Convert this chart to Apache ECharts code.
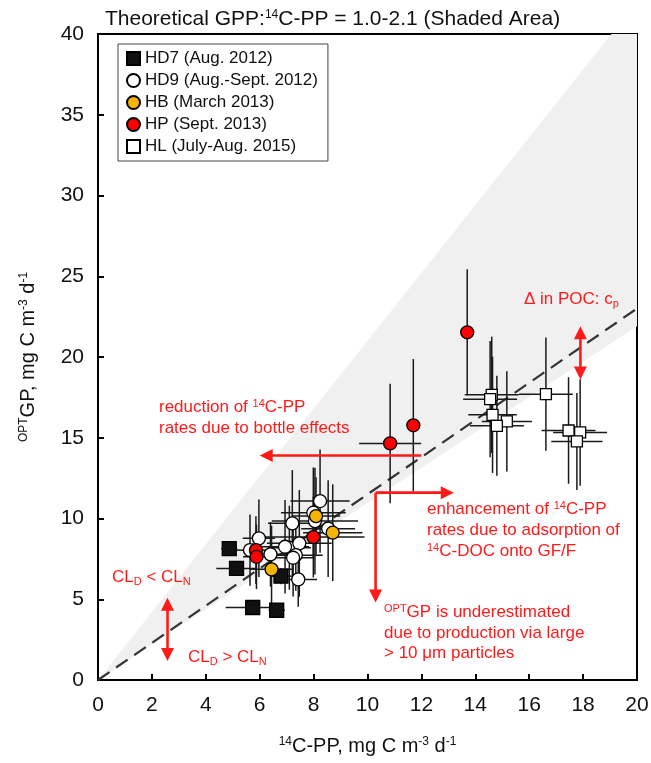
<!DOCTYPE html>
<html>
<head>
<meta charset="utf-8">
<script src="https://cdn.jsdelivr.net/npm/echarts@6/dist/echarts.min.js"></script>
<style>
  html, body { margin: 0; padding: 0; background: #fff; }
  #main { width: 651px; height: 763px; }
</style>
</head>
<body>
<div id="main"></div>
<script>
const FONT = 'Liberation Sans, Arial, sans-serif'

// HD7 (Aug. 2012)
const hd7X = [4.87, 5.14, 6.79, 5.74, 6.63]
const hd7Y = [8.13, 6.91, 6.43, 4.49, 4.32]
const hd7Xerr = [0.3, 0.75, 0.4, 1.0, 0.3]
const hd7Yerr = [0, 0, 0.5, 0, 0]
// HD9 (Aug.-Sept. 2012)
const hd9X = [8.24, 7.99, 8.05, 8.54, 7.21, 5.97, 5.64, 6.40, 7.10, 6.94, 7.47, 7.34, 7.24, 7.43]
const hd9Y = [11.08, 10.36, 9.84, 9.37, 9.70, 8.77, 8.04, 7.78, 8.19, 8.25, 8.46, 7.73, 7.57, 6.23]
const hd9Xerr = [1.1, 1.2, 1.6, 1.0, 0.9, 0.6, 0.5, 0.7, 0.8, 0.9, 1.2, 1.0, 0.8, 0.7]
const hd9Yerr = [3.2, 2.8, 3.3, 3.0, 3.3, 2.4, 2.2, 2.0, 2.6, 2.9, 3.3, 2.2, 2.4, 1.7]
// HB (March 2013)
const hbX = [8.09, 8.71, 6.44]
const hbY = [10.15, 9.12, 6.85]
const hbXerr = [0.9, 1.1, 0.8]
const hbYerr = [2.4, 3.0, 2.7]
// HP (Sept. 2013)
const hpX = [13.70, 11.70, 10.84, 7.99, 5.86, 5.88]
const hpY = [21.53, 15.77, 14.65, 8.85, 8.04, 7.63]
const hpXerr = [0, 0, 1.15, 1.9, 0.5, 0.5]
const hpYerr = [3.9, 4.1, 3.7, 2.5, 2.1, 2.0]
// HL (July-Aug. 2015)
const hlX = [14.61, 14.55, 14.64, 15.17, 14.80, 16.62, 17.46, 17.89, 17.77]
const hlY = [17.66, 17.39, 16.42, 16.01, 15.74, 17.70, 15.45, 15.33, 14.77]
const hlXerr = [1.0, 1.0, 0.9, 0.93, 1.0, 1.0, 1.0, 1.0, 0.95]
const hlYerr = [3.6, 3.6, 3.6, 3.1, 3.1, 3.5, 3.3, 3.3, 3.0]

// shaded GPP:14C-PP range and dashed reference line
const shadeX = [0, 19.05, 20, 20]
const shadeY = [0, 40, 40, 21.9]
const refX = [0, 20]
const refY = [0, 23]

const xTicks = { min: 0, max: 20, interval: 2 }
const yTicks = { min: 0, max: 40, interval: 5 }

// annotation arrows in data units: [x1, y1, x2, y2, headAtStart, headAtEnd]
const arrows = [
  [17.9, 18.6, 17.9, 21.9, true, true],
  [2.58, 1.17, 2.58, 5.09, true, true],
  [12.0, 13.9, 6.0, 13.9, false, true],
  [10.3, 11.6, 13.2, 11.6, false, true],
  [10.3, 11.6, 10.3, 4.8, false, true]
]

const zip = (xs, ys) => xs.map((x, i) => [x, ys[i]])
const zipErr = (xs, ys, ex, ey) => xs.map((x, i) => [x, ys[i], ex[i], ey[i]])

const errData = [].concat(
  zipErr(hd7X, hd7Y, hd7Xerr, hd7Yerr),
  zipErr(hd9X, hd9Y, hd9Xerr, hd9Yerr),
  zipErr(hbX, hbY, hbXerr, hbYerr),
  zipErr(hpX, hpY, hpXerr, hpYerr),
  zipErr(hlX, hlY, hlXerr, hlYerr)
)

const supStyle = { fontSize: 12, fontFamily: FONT, verticalAlign: 'top', color: '#111' }

function renderErr (params, api) {
  let x = api.value(0), y = api.value(1), ex = api.value(2), ey = api.value(3)
  let l = api.coord([x - ex, y]), r = api.coord([x + ex, y])
  let t = api.coord([x, y + ey]), b = api.coord([x, y - ey])
  let st = { stroke: '#1a1a1a', lineWidth: 1.5 }
  return {
    type: 'group',
    children: [
      { type: 'line', shape: { x1: l[0], y1: l[1], x2: r[0], y2: r[1] }, style: st },
      { type: 'line', shape: { x1: t[0], y1: t[1], x2: b[0], y2: b[1] }, style: st }
    ]
  }
}

function renderShade (params, api) {
  let pts = shadeX.map((x, i) => api.coord([x, shadeY[i]]))
  return { type: 'polygon', shape: { points: pts }, style: { fill: '#f0f0f0' } }
}

function scatter (name, xs, ys, symbol, size, color) {
  return {
    name: name,
    type: 'scatter',
    symbol: symbol,
    symbolSize: size,
    z: 5,
    itemStyle: { color: color, borderColor: '#000', borderWidth: 1.3, opacity: 1 },
    emphasis: { disabled: true },
    data: zip(xs, ys)
  }
}

let myChart = echarts.init(document.getElementById('main'))

let axisCommon = {
  type: 'value',
  splitLine: { show: false },
  axisLine: { show: true, onZero: false, lineStyle: { color: '#000', width: 2 } },
  axisTick: { show: true, inside: true, length: 6, lineStyle: { color: '#000', width: 2 } },
  nameLocation: 'middle'
}

let option = {
  backgroundColor: '#ffffff',
  animation: false,
  title: {
    text: 'Theoretical GPP:{sup|14}C-PP = 1.0-2.1 (Shaded Area)',
    left: 100,
    top: 4,
    textStyle: {
      fontSize: 21,
      fontWeight: 'normal',
      fontFamily: FONT,
      color: '#111',
      rich: { sup: supStyle }
    }
  },
  grid: {
    left: 98, right: 14, top: 34, bottom: 83,
    show: true, borderColor: '#000', borderWidth: 2,
    containLabel: false, outerBoundsMode: 'none'
  },
  legend: {
    orient: 'vertical',
    left: 118,
    top: 44,
    padding: [6, 10, 6, 8],
    itemGap: 5,
    itemWidth: 13,
    itemHeight: 13,
    backgroundColor: '#fff',
    borderColor: '#444',
    borderWidth: 1,
    borderRadius: 0,
    selectedMode: false,
    textStyle: { fontSize: 17, fontFamily: FONT, color: '#111' },
    data: ['HD7 (Aug. 2012)', 'HD9 (Aug.-Sept. 2012)', 'HB (March 2013)', 'HP (Sept. 2013)', 'HL (July-Aug. 2015)']
  },
  xAxis: Object.assign({}, axisCommon, xTicks, {
    name: '{sup|14}C-PP, mg C m{sup|-3} d{sup|-1}',
    nameGap: 56,
    nameTextStyle: { fontSize: 20, fontFamily: FONT, color: '#111', rich: { sup: supStyle } },
    axisLabel: { fontSize: 21, fontFamily: FONT, color: '#111', margin: 15 }
  }),
  yAxis: Object.assign({}, axisCommon, yTicks, {
    name: '{sup|OPT}GP, mg C m{sup|-3} d{sup|-1}',
    nameRotate: 90,
    nameGap: 60,
    nameTextStyle: { fontSize: 20, fontFamily: FONT, color: '#111', rich: { sup: supStyle } },
    axisLabel: { fontSize: 21, fontFamily: FONT, color: '#111', margin: 14 }
  }),
  series: [
    {
      type: 'custom',
      name: 'shade',
      renderItem: renderShade,
      silent: true,
      z: 0,
      data: [[0, 0]]
    },
    {
      type: 'line',
      name: 'ref',
      symbol: 'none',
      silent: true,
      z: 1,
      lineStyle: { color: '#333', width: 2.2, type: [14, 8] },
      data: zip(refX, refY)
    },
    {
      type: 'custom',
      name: 'err',
      renderItem: renderErr,
      silent: true,
      z: 2,
      encode: { x: 0, y: 1 },
      data: errData
    },
    scatter('HD7 (Aug. 2012)', hd7X, hd7Y, 'rect', 14, '#111'),
    scatter('HD9 (Aug.-Sept. 2012)', hd9X, hd9Y, 'circle', 13, '#fff'),
    scatter('HB (March 2013)', hbX, hbY, 'circle', 13, '#f5b400'),
    scatter('HP (Sept. 2013)', hpX, hpY, 'circle', 13, '#ff0000'),
    scatter('HL (July-Aug. 2015)', hlX, hlY, 'rect', 11, '#fff')
  ]
}
myChart.setOption(option)

// red annotations
const RED = '#ff1a1a'
const px = p => myChart.convertToPixel({ gridIndex: 0 }, p)

function head (tip, from) {
  let dx = tip[0] - from[0], dy = tip[1] - from[1]
  let len = Math.sqrt(dx * dx + dy * dy)
  let ux = dx / len, uy = dy / len
  let L = 13, W = 6.5
  let bx = tip[0] - ux * L, by = tip[1] - uy * L
  return {
    type: 'polygon',
    shape: { points: [tip, [bx - uy * W, by + ux * W], [bx + uy * W, by - ux * W]] },
    style: { fill: RED },
    z: 20
  }
}

let graphics = []
arrows.forEach(a => {
  let p1 = px([a[0], a[1]]), p2 = px([a[2], a[3]])
  let dx = p2[0] - p1[0], dy = p2[1] - p1[1]
  let len = Math.sqrt(dx * dx + dy * dy)
  let ux = dx / len, uy = dy / len
  let s = a[4] ? [p1[0] + ux * 10, p1[1] + uy * 10] : p1
  let e = a[5] ? [p2[0] - ux * 10, p2[1] - uy * 10] : p2
  graphics.push({
    type: 'line',
    shape: { x1: s[0], y1: s[1], x2: e[0], y2: e[1] },
    style: { stroke: RED, lineWidth: 2.6 },
    z: 20
  })
  if (a[4]) graphics.push(head(p1, p2))
  if (a[5]) graphics.push(head(p2, p1))
})

const richRed = {
  sup: { fontSize: 11, fontFamily: FONT, verticalAlign: 'top', fill: RED, color: RED },
  sub: { fontSize: 11, fontFamily: FONT, verticalAlign: 'bottom', padding: [9, 0, 0, 0], fill: RED, color: RED }
}
const notes = [
  [524, 299, 'Δ in POC: c{sub|p}'],
  [159, 407, 'reduction of {sup|14}C-PP'],
  [159, 428, 'rates due to bottle effects'],
  [427, 509, 'enhancement of {sup|14}C-PP'],
  [427, 530, 'rates due to adsorption of'],
  [427, 551, '{sup|14}C-DOC onto GF/F'],
  [384, 612, '{sup|OPT}GP is underestimated'],
  [384, 633, 'due to production via large'],
  [384, 653, '> 10 μm particles'],
  [112, 577, 'CL{sub|D} < CL{sub|N}'],
  [188, 657, 'CL{sub|D} > CL{sub|N}']
]
notes.forEach(n => {
  graphics.push({
    type: 'text',
    x: n[0],
    y: n[1],
    z: 21,
    style: {
      text: n[2],
      fill: RED,
      fontSize: 17,
      fontFamily: FONT,
      align: 'left',
      verticalAlign: 'middle',
      rich: richRed
    }
  })
})
myChart.setOption({ graphic: graphics })
</script>
</body>
</html>
